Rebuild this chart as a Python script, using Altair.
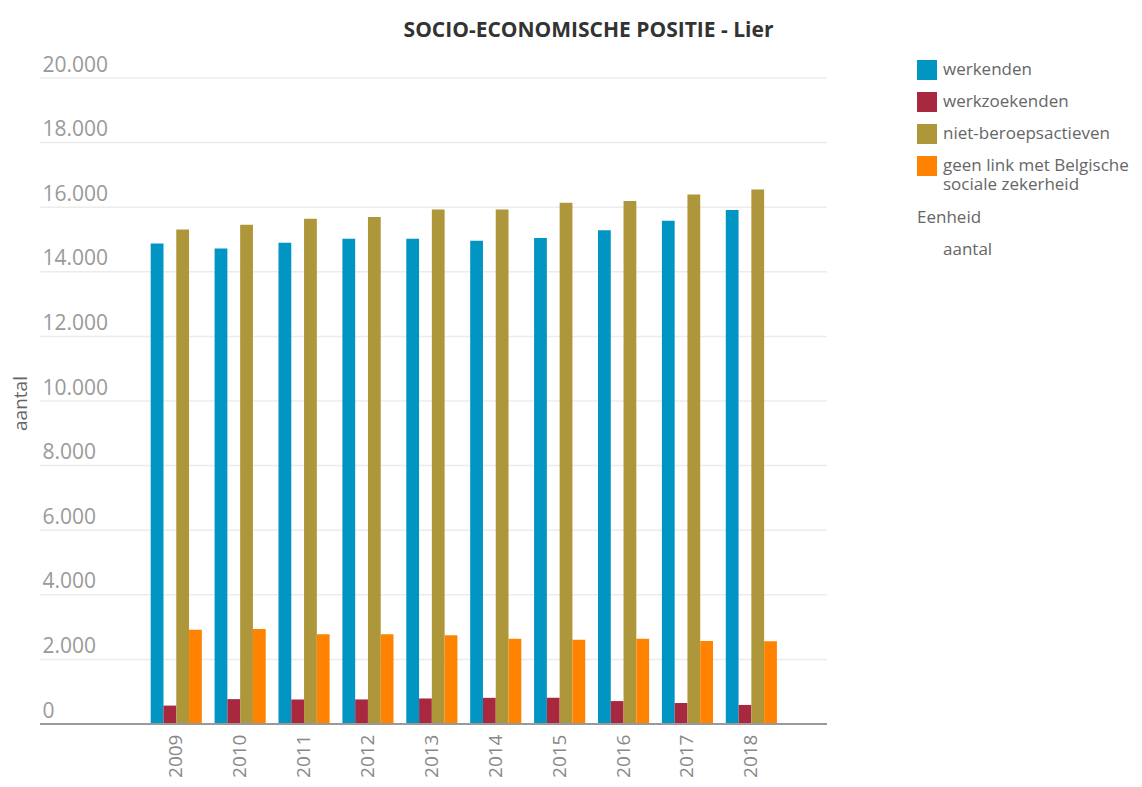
import altair as alt
import pandas as pd

years = ['2009', '2010', '2011', '2012', '2013', '2014', '2015', '2016', '2017', '2018']
series = ['werkenden', 'werkzoekenden', 'niet-beroepsactieven',
          'geen link met Belgische sociale zekerheid']
werkenden = [14880, 14720, 14900, 15020, 15020, 14960, 15050, 15290, 15580, 15910]
werkzoekenden = [570, 770, 760, 760, 790, 810, 810, 710, 650, 590]
niet_beroepsactieven = [15310, 15460, 15640, 15700, 15930, 15930, 16140, 16190, 16390, 16550]
geen_link = [2920, 2940, 2780, 2780, 2750, 2640, 2610, 2640, 2570, 2560]
colors = ['#0095C2', '#A8283F', '#AE963A', '#FF8300']
y_ticks = [0, 2000, 4000, 6000, 8000, 10000, 12000, 14000, 16000, 18000, 20000]

rows = []
for s, vals in zip(series, [werkenden, werkzoekenden, niet_beroepsactieven, geen_link]):
    for y, v in zip(years, vals):
        rows.append({'jaar': y, 'reeks': s, 'aantal': v, 'Eenheid': 'aantal'})
df = pd.DataFrame(rows)
grid_df = pd.DataFrame({'aantal': y_ticks})

FONT = 'Open Sans'
y_scale = alt.Scale(domain=[0, 20000], nice=False)

grid = alt.Chart(grid_df).mark_rule(color='#ececec', strokeWidth=1.5).encode(
    y=alt.Y('aantal:Q', scale=y_scale)
)

bars = alt.Chart(df).mark_bar().encode(
    x=alt.X('jaar:N', sort=years,
            scale=alt.Scale(paddingInner=0.2, paddingOuter=0, range=[110.7, 736.9]),
            axis=alt.Axis(title=None, labelAngle=-90, labelFontSize=19, labelColor='#888',
                          labelPadding=10, ticks=False, domain=False,
                          labelFont=FONT)),
    xOffset=alt.XOffset('reeks:N', sort=series, scale=alt.Scale(paddingInner=0, paddingOuter=0)),
    y=alt.Y('aantal:Q', scale=y_scale,
            axis=alt.Axis(title='aantal', values=y_ticks, domain=False, ticks=False, grid=False,
                          labelAlign='left', labelPadding=-2, labelBaseline='alphabetic',
                          labelOffset=-7, labelFlush=False, labelFontSize=21, labelColor='#9a9a9a',
                          labelFont=FONT,
                          labelExpr="replace(format(datum.value, ',d'), ',', '.')",
                          titleX=-20, titleY=325, titleAngle=-90, titleAlign='center',
                          titleBaseline='middle', titleFontSize=19, titleFontWeight='normal',
                          titleColor='#666', titleFont=FONT)),
    color=alt.Color('reeks:N', sort=series, scale=alt.Scale(domain=series, range=colors),
                    legend=alt.Legend(title=None, orient='none', legendX=877, legendY=-18,
                                      symbolType='square', symbolSize=400, symbolStrokeWidth=0,
                                      symbolOpacity=1,
                                      labelFontSize=17, labelColor='#666', labelFont=FONT,
                                      labelOffset=6, rowPadding=12, labelLimit=300,
                                      labelExpr="datum.label == 'geen link met Belgische sociale zekerheid' ? ['geen link met Belgische', 'sociale zekerheid'] : datum.label")),
    opacity=alt.Opacity('Eenheid:O', scale=alt.Scale(range=[1, 1]),
                        legend=alt.Legend(title='Eenheid', orient='none', legendX=877, legendY=132,
                                          symbolType='square', symbolSize=400,
                                          symbolFillColor='white', symbolStrokeColor='white',
                                          labelFontSize=17, labelColor='#666', labelFont=FONT,
                                          labelOffset=4, titleFontSize=17, titleFontWeight='normal',
                                          titleColor='#666', titleFont=FONT, titlePadding=12)),
)

baseline = alt.Chart(grid_df).mark_rule(color='#999', strokeWidth=2).encode(y=alt.datum(0))

chart = alt.layer(grid, bars, baseline).properties(
    width=787, height=646,
    title=alt.TitleParams('SOCIO-ECONOMISCHE POSITIE - Lier', fontSize=21, fontWeight='bold',
                          color='#333', font=FONT, anchor='middle', dx=155, offset=13),
    autosize=alt.AutoSizeParams(type='none'),
    padding={'left': 32, 'top': 70, 'right': 307, 'bottom': 55},
).configure_view(stroke=None)

chart.save("out.html", embed_options={"renderer": "svg", "actions": False})
